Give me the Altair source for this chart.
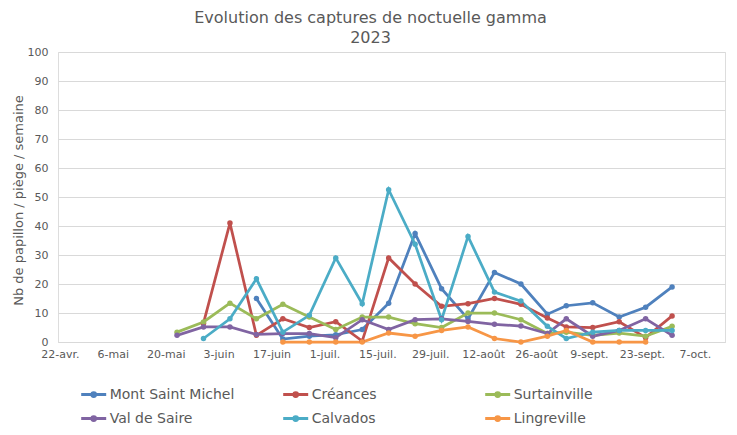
import altair as alt
import pandas as pd

dates = ["2023-05-23", "2023-05-30", "2023-06-06", "2023-06-13", "2023-06-20",
         "2023-06-27", "2023-07-04", "2023-07-11", "2023-07-18", "2023-07-25",
         "2023-08-01", "2023-08-08", "2023-08-15", "2023-08-22", "2023-08-29",
         "2023-09-03", "2023-09-10", "2023-09-17", "2023-09-24", "2023-10-01"]

mont_saint_michel = [None, None, None, 15, 1, 2, 2.5, 4.3, 13.4, 37.4,
                     18.4, 8, 24, 20, 9.6, 12.5, 13.5, 8.6, 12, 19]
creances = [None, 6.5, 41, 2.3, 8, 5, 7, 0.3, 29, 20,
            12.3, 13.2, 15, 13, 8.3, 5.2, 5, 7, 1.5, 9]
surtainville = [3.4, 6.9, 13.4, 8, 13, 8.6, 4.3, 8.6, 8.6, 6.3,
                5, 10, 10, 7.7, 2.9, 3.4, 2.3, 3.1, 2, 5.4]
val_de_saire = [2.3, 5.2, 5.2, 2.6, 2.9, 2.9, 1.5, 7.7, 4.3, 7.7,
                8, 7.1, 6.1, 5.5, 2.9, 8, 2, 4, 8, 2.3]
calvados = [None, 1.2, 8, 21.8, 3.4, 9.2, 29, 13.2, 52.5, 33.7,
            7.7, 36.4, 17.2, 14.1, 5.4, 1.2, 3.4, 4, 4, 4]
lingreville = [None, None, None, None, 0, 0, 0, 0, 3.1, 2,
               4, 5.2, 1.2, 0, 2, 4, 0, 0, 0, None]

series_names = ["Mont Saint Michel", "Créances", "Surtainville",
                "Val de Saire", "Calvados", "Lingreville"]
series_values = [mont_saint_michel, creances, surtainville,
                 val_de_saire, calvados, lingreville]
series_colors = ["#4F81BD", "#C0504D", "#9BBB59", "#8064A2", "#4BACC6", "#F79646"]

tick_dates = ["2023-04-22", "2023-05-06", "2023-05-20", "2023-06-03", "2023-06-17",
              "2023-07-01", "2023-07-15", "2023-07-29", "2023-08-12", "2023-08-26",
              "2023-09-09", "2023-09-23", "2023-10-07"]
y_ticks = [0, 10, 20, 30, 40, 50, 60, 70, 80, 90, 100]

rows = []
for name, vals in zip(series_names, series_values):
    for d, v in zip(dates, vals):
        if v is not None:
            rows.append({"date": d, "serie": name, "valeur": v})
df = pd.DataFrame(rows)


def ms(s):
    return int(pd.Timestamp(s, tz="UTC").value // 10**6)


x_domain = [ms("2023-04-21T12:00:00"), ms("2023-10-15T00:00:00")]
x_values = [ms(t) for t in tick_dates]

month_expr = ("utcdate(datum.value) + '-' + ['janv.','févr.','mars','avr.','mai','juin',"
              "'juil.','août','sept.','oct.','nov.','déc.'][utcmonth(datum.value)]")

FONT = "DejaVu Sans"
GREY = "#595959"

legend_symbol = ("M-1,0L1,0M-0.15,0A0.15,0.15,0,1,1,0.15,0"
                 "A0.15,0.15,0,1,1,-0.15,0Z")

chart = alt.Chart(df).mark_line(
    strokeWidth=2.75,
    point=alt.OverlayMarkDef(filled=True, size=30, opacity=1),
).encode(
    x=alt.X("date:T",
            scale=alt.Scale(type="utc", domain=x_domain),
            axis=alt.Axis(values=x_values, labelExpr=month_expr, title=None,
                          grid=False, ticks=False, domain=True,
                          domainColor="#D9D9D9", domainWidth=1,
                          labelFont=FONT, labelFontSize=11, labelColor=GREY,
                          labelPadding=6, labelOverlap=False, labelFlush=False)),
    y=alt.Y("valeur:Q",
            scale=alt.Scale(domain=[0, 100], nice=False),
            axis=alt.Axis(values=y_ticks, title="Nb de papillon / piège / semaine",
                          grid=True, gridColor="#D9D9D9", gridWidth=1,
                          ticks=False, domain=False,
                          labelFont=FONT, labelFontSize=11, labelColor=GREY,
                          labelPadding=10,
                          titleFont=FONT, titleFontSize=13, titleColor=GREY,
                          titleFontWeight="normal",
                          titleX=-40, titleY=148, titleAngle=270,
                          titleAlign="center", titleBaseline="middle")),
    color=alt.Color("serie:N",
                    scale=alt.Scale(domain=series_names, range=series_colors),
                    legend=alt.Legend(title=None, orient="none",
                                      legendX=21.7, legendY=328.5,
                                      direction="horizontal", columns=3,
                                      gridAlign="all", columnPadding=42,
                                      rowPadding=2, padding=0,
                                      symbolType=legend_symbol, symbolSize=625,
                                      symbolStrokeWidth=3, labelOffset=2,
                                      labelFont=FONT, labelFontSize=14,
                                      labelColor=GREY, labelLimit=0)),
    order=alt.Order("date:T"),
).properties(
    width=667,
    height=290,
    title=alt.TitleParams(
        text=["Evolution des captures de noctuelle gamma", "2023"],
        font=FONT, fontSize=16, fontWeight="normal", color=GREY,
        anchor="middle", dx=-21, lineHeight=20, offset=0,
    ),
    autosize=alt.AutoSizeParams(type="none"),
    padding={"left": 50, "top": 44, "right": 4, "bottom": 85},
).configure_view(stroke=None).configure(background="white")

chart.save("out.html", embed_options={"renderer": "svg", "actions": False})
